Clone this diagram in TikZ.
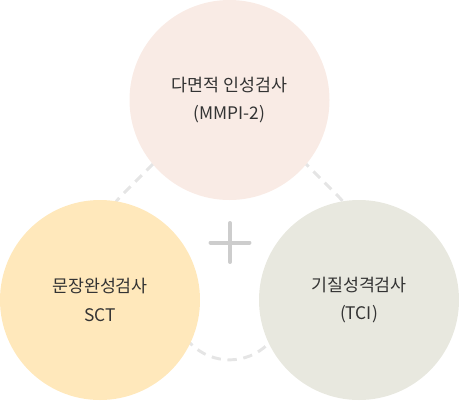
\documentclass[tikz,border=0pt]{standalone}
\usepackage{fontspec}
\usepackage{tikz}
\usetikzlibrary{positioning}
\newfontfamily\krfont{Noto Sans CJK KR}
\definecolor{PeachTint}{RGB}{249, 235, 229}
\definecolor{SandYellow}{RGB}{255, 232, 187}
\definecolor{SageGray}{RGB}{232, 232, 223}
\definecolor{DashGray}{RGB}{229, 229, 229}
\definecolor{PlusGray}{RGB}{205, 205, 205}
\definecolor{LabelGray}{RGB}{51, 51, 51}

\begin{document}
\begin{tikzpicture}[x=0.75pt, y=-0.75pt,
    testcircle/.style={circle, minimum size=150pt, inner sep=0pt, align=center,
      text=LabelGray, font={\krfont\fontsize{13}{21.5}\selectfont}},
    ringdash/.style={DashGray, line width=2.2pt, dash pattern=on 7pt off 5pt},
    plussign/.style={PlusGray, line width=3pt, line cap=round}]
    \useasboundingbox (0,0) rectangle (459,400);

    % Dashed ring behind the circles
    \coordinate (ring top) at (229.5, 87.5);
    \coordinate (ring right) at (377, 235);
    \coordinate (ring bottom) at (229.5, 382.5);
    \coordinate (ring left) at (82, 235);
    \draw[ringdash, rounded corners=41pt] (ring top) -- (ring right) -- (ring bottom) -- (ring left) -- cycle;

    % Tests
    \node[testcircle, fill=PeachTint] (mmpi) at (229.5, 100) {다면적 인성검사\\(MMPI-2)};
    \node[testcircle, fill=SandYellow] (sct) at (100, 300) {문장완성검사\\SCT};
    \node[testcircle, fill=SageGray] (tci) at (359, 300) {기질성격검사\\(TCI)};

    % Plus sign
    \coordinate (plus) at (230, 242.5);
    \draw[plussign] ([xshift=-14.6pt]plus) -- ([xshift=14.6pt]plus);
    \draw[plussign] ([yshift=-14.6pt]plus) -- ([yshift=14.6pt]plus);
  \end{tikzpicture}
\end{document}
